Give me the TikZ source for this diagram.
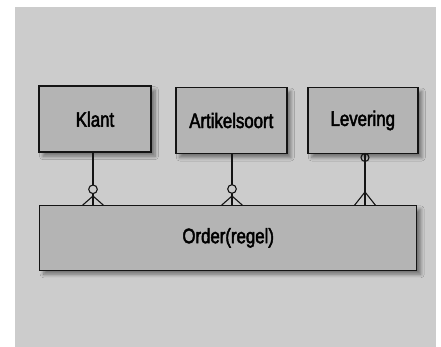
\documentclass[tikz,border=0pt]{standalone}
\usepackage{fontspec}
\setmainfont[FakeStretch=0.8, FakeBold=2.2]{Liberation Sans}
\usetikzlibrary{shadows.blur}
\definecolor{pagebg}{HTML}{CCCCCC}
\definecolor{boxfill}{HTML}{B4B4B4}
\definecolor{ink}{HTML}{141414}
\tikzset{
  entity/.style={draw=ink, line width=1.5pt, fill=boxfill, inner sep=0pt,
    font=\fontsize{21}{24}\selectfont,
    blur shadow={shadow xshift=4pt, shadow yshift=-4pt, shadow opacity=45,
      shadow blur radius=3.5pt, shadow blur steps=6}},
  rel/.style={draw=ink, line width=1.1pt},
  zero/.style={draw=ink, line width=1.1pt, fill=pagebg}
}
\begin{document}
\begin{tikzpicture}[x=1pt, y=-1pt]
  \useasboundingbox (0,0) rectangle (441,347);
  \fill[white] (0,0) rectangle (441,347);
  \fill[pagebg] (15,7) rectangle (436,347);

  % entities
  \node[entity, minimum width=112pt, minimum height=66pt] (klant) at (95,119.2) {Klant};
  \node[entity, minimum width=111pt, minimum height=66pt] (artikel) at (231.3,120.5) {Artikelsoort};
  \node[entity, minimum width=110pt, minimum height=66pt] (levering) at (362.8,120.5) {Levering};
  \node[entity, minimum width=377pt, minimum height=65pt] (order) at (228.2,237.8) {Order(regel)};

  % attachment points on the order box
  \coordinate (k0) at (93,0);
  \coordinate (a0) at (232,0);
  \coordinate (l0) at (365,0);

  % Klant -- Order : zero-or-many
  \draw[rel] (k0 |- klant.south) -- (k0 |- order.north);
  \draw[rel] (93,196) -- (82.5,205.3) (93,196) -- (103.5,205.3);
  \draw[zero] (93,189.3) circle (4.3);

  % Artikelsoort -- Order : zero-or-many
  \draw[rel] (a0 |- artikel.south) -- (a0 |- order.north);
  \draw[rel] (232,196) -- (221.5,205.3) (232,196) -- (242.5,205.3);
  \draw[zero] (232,189) circle (4.3);

  % Levering -- Order : optional on the Levering side, many on the order side
  \draw[rel] (l0 |- levering.south) -- (l0 |- order.north);
  \draw[rel] (365,192) -- (354.5,205.3) (365,192) -- (375.5,205.3);
  \draw[rel] (365,157.5) circle (4);
\end{tikzpicture}
\end{document}
